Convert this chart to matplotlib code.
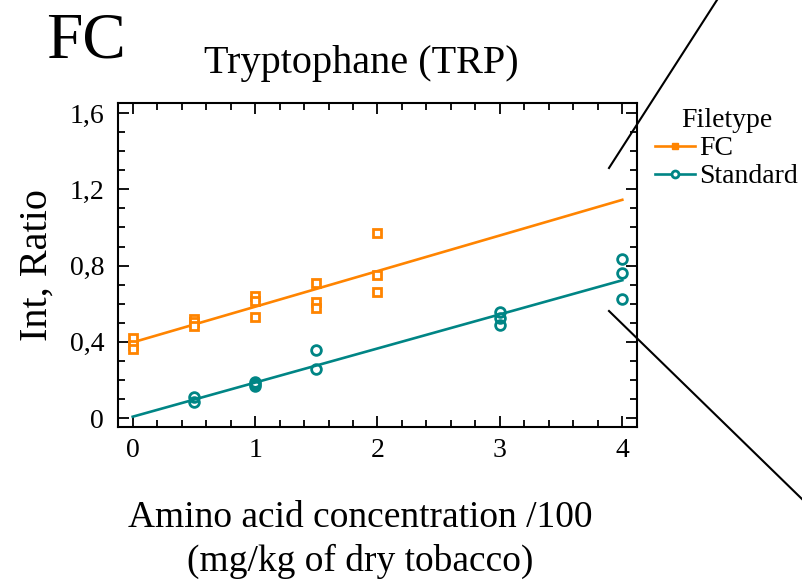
import numpy as np
import matplotlib
matplotlib.use("Agg")
import matplotlib.pyplot as plt
from matplotlib.lines import Line2D
from matplotlib.ticker import MultipleLocator

plt.rcParams['font.family'] = ['Liberation Serif', 'DejaVu Serif']

# --- data ---
fc_x = [0, 0, 0, 0.5, 0.5, 0.5, 1, 1, 1, 1.5, 1.5, 1.5, 2, 2, 2]
fc_y = [0.418, 0.383, 0.361, 0.518, 0.502, 0.483, 0.642, 0.615, 0.528,
        0.707, 0.607, 0.579, 0.972, 0.750, 0.661]
std_x = [0.5, 0.5, 1, 1, 1, 1.5, 1.5, 3, 3, 3, 4, 4, 4]
std_y = [0.110, 0.082, 0.189, 0.178, 0.168, 0.355, 0.257,
         0.558, 0.523, 0.488, 0.834, 0.759, 0.626]

# fitted lines (intercept, slope), drawn from 0 to 4
fc_fit = (0.397, 0.187)
std_fit = (0.007, 0.179)
fit_x = [0, 4]

xticks = [0, 1, 2, 3, 4]
yticks = [0, 0.4, 0.8, 1.2, 1.6]
ytick_labels = ['0', '0,4', '0,8', '1,2', '1,6']

ORANGE = '#ff8400'
TEAL = '#008585'

fig = plt.figure(figsize=(8.03, 5.84), dpi=100)
ax = fig.add_axes([118 / 803, 1 - 427 / 584, (637 - 118) / 803, (427 - 103) / 584])

fx = np.array(fit_x)
ax.plot(fx, fc_fit[0] + fc_fit[1] * fx, color=ORANGE, lw=1.9)
ax.plot(fx, std_fit[0] + std_fit[1] * fx, color=TEAL, lw=1.9)
ax.plot(fc_x, fc_y, ls='none', marker='s', ms=6.3, mfc='white', mec=ORANGE, mew=2)
ax.plot(std_x, std_y, ls='none', marker='o', ms=7, mfc='none', mec=TEAL, mew=2)

ax.set_xlim(-0.12, 4.12)
ax.set_ylim(-0.047, 1.653)
ax.set_xticks(xticks)
ax.set_yticks(yticks)
ax.set_yticklabels(ytick_labels)
ax.xaxis.set_minor_locator(MultipleLocator(0.2))
ax.yaxis.set_minor_locator(MultipleLocator(0.1))
ax.tick_params(which='both', direction='in', top=True, right=True, width=1.3,
               labelsize=20)
ax.tick_params(axis='x', pad=8)
ax.tick_params(axis='y', pad=10)
ax.tick_params(which='major', length=8)
ax.tick_params(which='minor', length=5)
for s in ax.spines.values():
    s.set_linewidth(1.5)

ax.set_ylabel('Int, Ratio', fontsize=29, labelpad=10)
ax.set_xlabel('Amino acid concentration /100\n(mg/kg of dry tobacco)', fontsize=27,
              labelpad=27, linespacing=1.3)
ax.xaxis.label.set_x((360 - 118) / (637 - 118))
fig.text(361 / 803, 1 - 73 / 584, 'Tryptophane (TRP)', fontsize=29,
         ha='center', va='baseline')
fig.text(46 / 803, 1 - 58 / 584, 'FC', fontsize=47, ha='left', va='baseline')

handles = [Line2D([], [], color=ORANGE, lw=1.9, marker='s', ms=5),
           Line2D([], [], color=TEAL, lw=1.9, marker='o', ms=5, mfc='white', mew=2)]
fig.legend(handles, ['FC', 'Standard'], title='Filetype', loc='upper left',
           bbox_to_anchor=(655 / 803, 1 - 108 / 584), frameon=False, fontsize=20,
           title_fontsize=20, handlelength=1.45, handletextpad=0.15, labelspacing=0.1,
           borderpad=0, borderaxespad=0)

# the two black pointer lines
fig.add_artist(Line2D([609 / 803, 717 / 803], [1 - 168 / 584, 1.0], color='black', lw=1.5))
fig.add_artist(Line2D([609 / 803, 803 / 803], [1 - 311 / 584, 1 - 500 / 584], color='black', lw=1.5))

fig.savefig('out.png', dpi=100)
